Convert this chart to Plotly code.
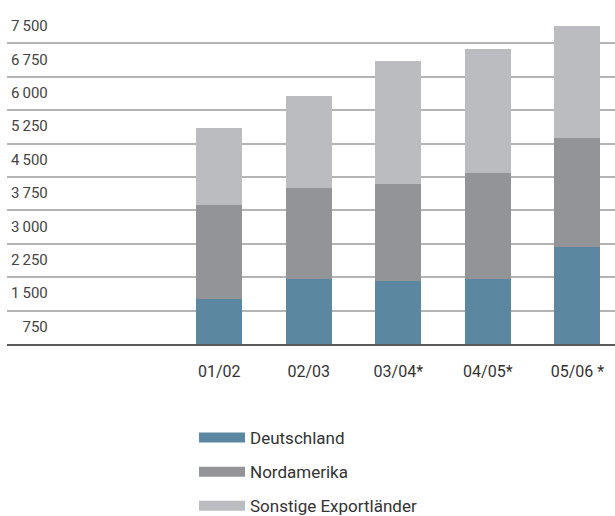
import plotly.graph_objects as go

categories = ["01/02", "02/03", "03/04*", "04/05*", "05/06 *"]
deutschland = [1010, 1460, 1420, 1460, 2180]
nordamerika = [2120, 2050, 2180, 2390, 2450]
sonstige = [1730, 2070, 2745, 2765, 2500]

tick_vals = [750, 1500, 2250, 3000, 3750, 4500, 5250, 6000, 6750, 7500]
tick_text = ["\u2007\u2009750", "1\u2009500", "2\u2009250", "3\u2009000", "3\u2009750",
             "4\u2009500", "5\u2009250", "6\u2009000", "6\u2009750", "7\u2009500"]

series = [
    ("Deutschland", deutschland, "#5b87a1"),
    ("Nordamerika", nordamerika, "#939498"),
    ("Sonstige Exportländer", sonstige, "#bbbcc0"),
]

fig = go.Figure()
for name, vals, color in series:
    fig.add_trace(go.Bar(x=categories, y=vals, name=name, marker_color=color,
                         marker_line_width=0, width=0.514, showlegend=False))
for name, vals, color in series:
    fig.add_trace(go.Scatter(x=[None], y=[None], mode="lines", name=name,
                             line=dict(color=color, width=13), legendgroup=name))

fig.update_layout(
    width=615, height=516,
    margin=dict(l=7, r=0, t=10, b=172, autoexpand=False),
    barmode="stack",
    plot_bgcolor="white", paper_bgcolor="white",
    font=dict(family="Roboto, Liberation Sans, sans-serif", color="#333333", size=15),
    legend=dict(x=0.3076, y=0.186, xref="paper", yref="container",
                xanchor="left", yanchor="top",
                traceorder="grouped", tracegroupgap=9, itemwidth=46,
                font=dict(size=17, color="#333333")),
    showlegend=True,
)
fig.update_xaxes(type="category", range=[-2.37, 4.42], showgrid=False,
                 showline=True, linecolor="#5a5a5a", linewidth=2, automargin=False,
                 ticks="", ticklabelstandoff=12, tickfont=dict(size=16))
fig.update_yaxes(range=[0, 7500], tickvals=tick_vals, ticktext=tick_text,
                 showgrid=True, gridcolor="#b4b4b4", gridwidth=1.5, automargin=False,
                 zeroline=False, ticklabelposition="inside", ticklabelshift=16,
                 ticklabelstandoff=1, tickfont=dict(size=15))

fig.write_html("out.html")
